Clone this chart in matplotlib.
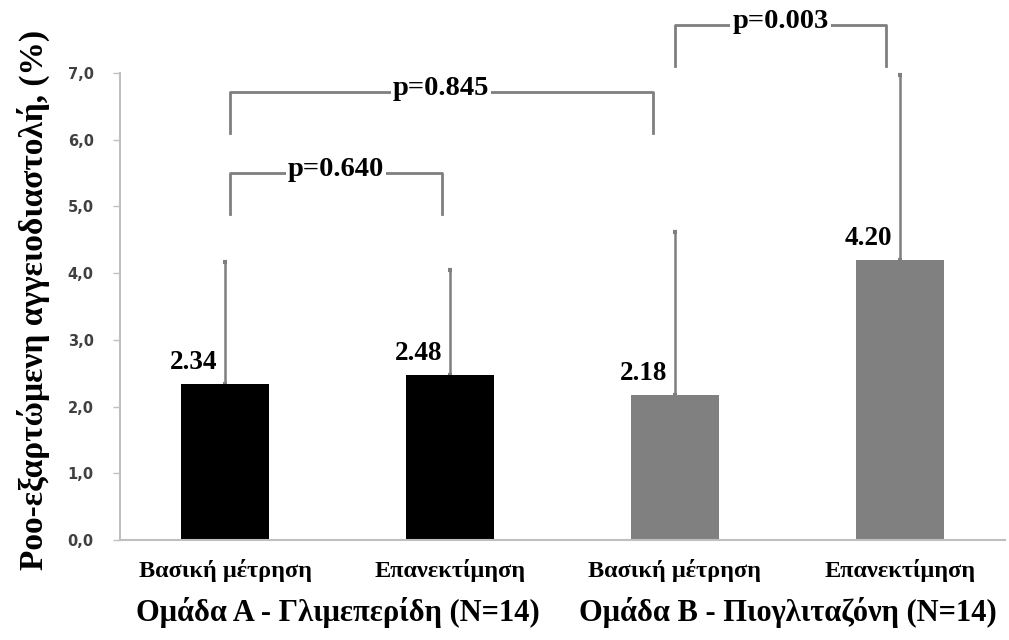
import numpy as np
import matplotlib.pyplot as plt

# ── Dados ─────────────────────────────────────────────────────────────────────
categorias = ["Βασική μέτρηση", "Επανεκτίμηση", "Βασική μέτρηση", "Επανεκτίμηση"]
grupos = ["Ομάδα A - Γλιμεπερίδη (N=14)", "Ομάδα B - Πιογλιταζόνη (N=14)"]
medias = [2.34, 2.48, 2.18, 4.20]
desvios = [1.83, 1.57, 2.44, 2.77]
rotulos = ["2.34", "2.48", "2.18", "4.20"]
yticks = [0, 1, 2, 3, 4, 5, 6, 7]
ytick_labels = ["0,0", "1,0", "2,0", "3,0", "4,0", "5,0", "6,0", "7,0"]

# comparações: (barra i, barra j, altura, texto)
comparacoes = [
    (0, 1, 5.50, "p=0.640"),
    (0, 2, 6.72, "p=0.845"),
    (2, 3, 7.72, "p=0.003"),
]

COLORS = {
    "bar": ["#000000", "#000000", "#808080", "#808080"],
    "err": "#7f7f7f",
    "spine": "#bfbfbf",
    "tick": "#404040",
}
SERIF = "Liberation Serif"

fig = plt.figure(figsize=(10.09, 6.4), dpi=100)
ax = fig.add_axes([0.119, 0.15625, 0.877, 0.834])

x = np.arange(len(medias))
ax.bar(x, medias, width=0.39, color=COLORS["bar"], zorder=2)
ax.errorbar(x, medias, yerr=[np.zeros(len(desvios)), desvios], fmt="none",
            ecolor=COLORS["err"], elinewidth=1.8, capsize=1.5, capthick=3, zorder=1)

for xi, m, r in zip(x, medias, rotulos):
    ax.text(xi - 0.035, m + 0.22, r, ha="right", va="baseline",
            family=SERIF, fontweight="bold", fontsize=19.5, color="black")

# colchetes de significância
offsets = {(0, 1): (0.02, -0.036), (0, 2): (0.02, -0.098), (2, 3): (0.0, -0.062)}
for i, j, h, txt in comparacoes:
    oi, oj = offsets[(i, j)]
    xa, xb = x[i] + oi, x[j] + oj
    ax.plot([xa, xa, xb, xb], [h - 0.62, h, h, h - 0.62], color=COLORS["err"],
            linewidth=2, solid_joinstyle="round", clip_on=False)
    ax.text((xa + xb) / 2, h + 0.05, txt, ha="center", va="center",
            family=SERIF, fontweight="bold", fontsize=20.5, color="black",
            bbox=dict(facecolor="white", edgecolor="none", pad=1.5))

ax.set_xlim(-0.467, 3.467)
ax.set_ylim(0, 8.0)
ax.set_yticks(yticks)
ax.set_yticklabels(ytick_labels, fontweight="bold", fontsize=10.5,
                   color=COLORS["tick"], family="DejaVu Sans")
ax.set_xticks(x)
ax.set_xticklabels(categorias, family=SERIF, fontweight="bold", fontsize=17.5)
ax.tick_params(axis="x", length=0, pad=14)
ax.tick_params(axis="y", length=5, width=1, color=COLORS["spine"], pad=14)

for s in ["top", "right"]:
    ax.spines[s].set_visible(False)
ax.spines["left"].set_bounds(0, 7)
ax.spines["left"].set_color(COLORS["spine"])
ax.spines["bottom"].set_color(COLORS["spine"])
ax.spines["left"].set_linewidth(1.5)
ax.spines["bottom"].set_linewidth(1.5)

# rótulos dos grupos
for g, k in zip(grupos, [0, 2]):
    xc = (x[k] + x[k + 1]) / 2
    ax.annotate(g, xy=(xc, 0), xycoords=("data", "figure fraction"),
                xytext=(0, 1 - 613 / 640), textcoords=("offset points", "figure fraction"),
                ha="center", va="center",
                family=SERIF, fontweight="bold", fontsize=22)

fig.text(33 / 1009, 1 - 300 / 640, "Ροο-εξαρτώμενη αγγειοδιαστολή, (%)",
         rotation=90, ha="center", va="center", family=SERIF,
         fontweight="bold", fontsize=24)

fig.savefig("out.png", dpi=100, facecolor="white")
